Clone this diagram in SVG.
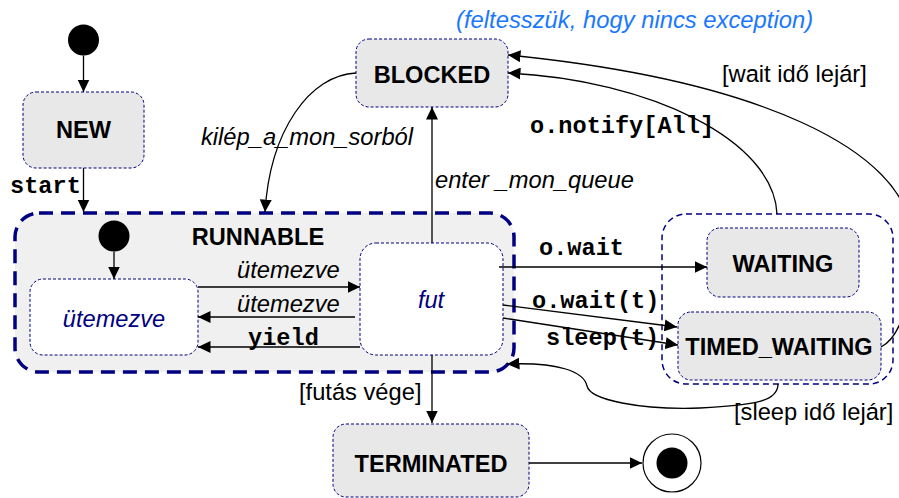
<svg xmlns="http://www.w3.org/2000/svg" width="899" height="498" viewBox="0 0 899 498">
<defs>
<marker id="arr" markerUnits="userSpaceOnUse" markerWidth="13" markerHeight="12" refX="12.5" refY="6" orient="auto">
<path d="M0,0 L12.5,6 L0,12 z" fill="#000"/>
</marker>
<style>
.state{fill:#e8e8e8;stroke:#000080;stroke-width:1;stroke-dasharray:3 2}
.inner{fill:#fff;stroke:#000080;stroke-width:1;stroke-dasharray:3 2}
.runnable{fill:#f0f0f0;stroke:#000080;stroke-width:3.5;stroke-dasharray:14 8}
.region{fill:none;stroke:#000080;stroke-width:1.5;stroke-dasharray:6 4}
.b{font-family:"Liberation Sans",Arial,sans-serif;font-weight:bold;font-size:23.6px;fill:#000}
.i{font-family:"Liberation Sans",Arial,sans-serif;font-style:italic;font-size:23.7px;fill:#000}
.iv{font-family:"Liberation Sans",Arial,sans-serif;font-style:italic;font-size:23.6px;fill:#000080}
.r{font-family:"Liberation Sans",Arial,sans-serif;font-size:23.7px;fill:#000}
.m{font-family:"Liberation Mono","Courier New",monospace;font-weight:bold;font-size:23.6px;fill:#000}
.note{font-family:"Liberation Sans",Arial,sans-serif;font-style:italic;font-size:23.8px;fill:#1a78ff}
.c{fill:none;stroke:#000;stroke-width:1.3;marker-end:url(#arr)}
</style>
</defs>
<rect width="899" height="498" fill="#fff"/>

<text class="note" x="456" y="28">(feltesszük, hogy nincs exception)</text>

<g id="init">
<circle cx="83.5" cy="40" r="15.5" fill="#000"/>
</g>
<g id="new">
<rect class="state" x="23" y="92" width="121" height="76" rx="13"/>
<text class="b" x="83.5" y="138" text-anchor="middle">NEW</text>
</g>
<g id="runnable">
<rect class="runnable" x="15" y="213" width="499" height="159" rx="24"/>
<text class="b" x="258" y="245" text-anchor="middle">RUNNABLE</text>
</g>
<g id="init2">
<circle cx="114" cy="236" r="15.5" fill="#000"/>
</g>
<g id="utemezve">
<rect class="inner" x="30" y="279" width="168" height="76" rx="13"/>
<text class="iv" x="114" y="327" text-anchor="middle">ütemezve</text>
</g>
<g id="fut">
<rect class="inner" x="360" y="243" width="143" height="112" rx="16"/>
<text class="iv" x="431" y="308" text-anchor="middle">fut</text>
</g>
<g id="blocked">
<rect class="state" x="356" y="39" width="152" height="68" rx="13"/>
<text class="b" x="432" y="83" text-anchor="middle">BLOCKED</text>
</g>
<g id="waitregion">
<rect class="region" x="662" y="214" width="231" height="170" rx="24"/>
</g>
<g id="waiting">
<rect class="state" x="707" y="228" width="152" height="69" rx="13"/>
<text class="b" x="783" y="272" text-anchor="middle">WAITING</text>
</g>
<g id="timedwaiting">
<rect class="state" x="678" y="312" width="203" height="68" rx="13"/>
<text class="b" x="779" y="355" text-anchor="middle">TIMED_WAITING</text>
</g>
<g id="terminated">
<rect class="state" x="333" y="424" width="196" height="73" rx="13"/>
<text class="b" x="431" y="472" text-anchor="middle">TERMINATED</text>
</g>
<g id="final">
<circle cx="672" cy="463" r="29" fill="#fff" stroke="#000" stroke-width="1.2"/>
<circle cx="672" cy="463" r="15.5" fill="#000"/>
</g>

<g id="connectors">
<path class="c" d="M83.5 55.5 L83.5 92"/>
<path class="c" d="M83.5 168 L83.5 212"/>
<path class="c" d="M356 73 C310 75 270 130 265 212"/>
<path class="c" d="M114 251.5 L114 279"/>
<path class="c" d="M198 287 L360 287"/>
<path class="c" d="M355 317 L198 317"/>
<path class="c" d="M360 347 L198 347"/>
<path class="c" d="M432 243 L432 107"/>
<path class="c" d="M499 267 L707 267"/>
<path class="c" d="M503 305 L677 327"/>
<path class="c" d="M503 318 L678 345"/>
<path class="c" d="M777 214 C774 140 650 80 508 73"/>
<path class="c" d="M881 347 C905 335 915 280 912 235 C905 150 760 80 508 55"/>
<path class="c" d="M778 384 C778 400 760 405 700 408 C640 410 590 400 587 386 C584 372 560 362 507 364"/>
<path class="c" d="M432 355 L432 423"/>
<path class="c" d="M529 463 L642 463"/>
</g>

<g id="labels">
<text class="m" x="10" y="193">start</text>
<text class="i" x="201" y="145">kilép_a_mon_sorból</text>
<text class="i" x="435" y="188">enter _mon_queue</text>
<text class="m" x="530" y="133">o.notify[All]</text>
<text class="r" x="722" y="82">[wait idő lejár]</text>
<text class="i" x="237" y="278">ütemezve</text>
<text class="i" x="237" y="312">ütemezve</text>
<text class="m" x="248" y="345">yield</text>
<text class="m" x="539" y="255">o.wait</text>
<text class="m" x="532" y="308">o.wait(t)</text>
<text class="m" x="546" y="345">sleep(t)</text>
<text class="r" x="299" y="400">[futás vége]</text>
<text class="r" x="734" y="420">[sleep idő lejár]</text>
</g>
</svg>
